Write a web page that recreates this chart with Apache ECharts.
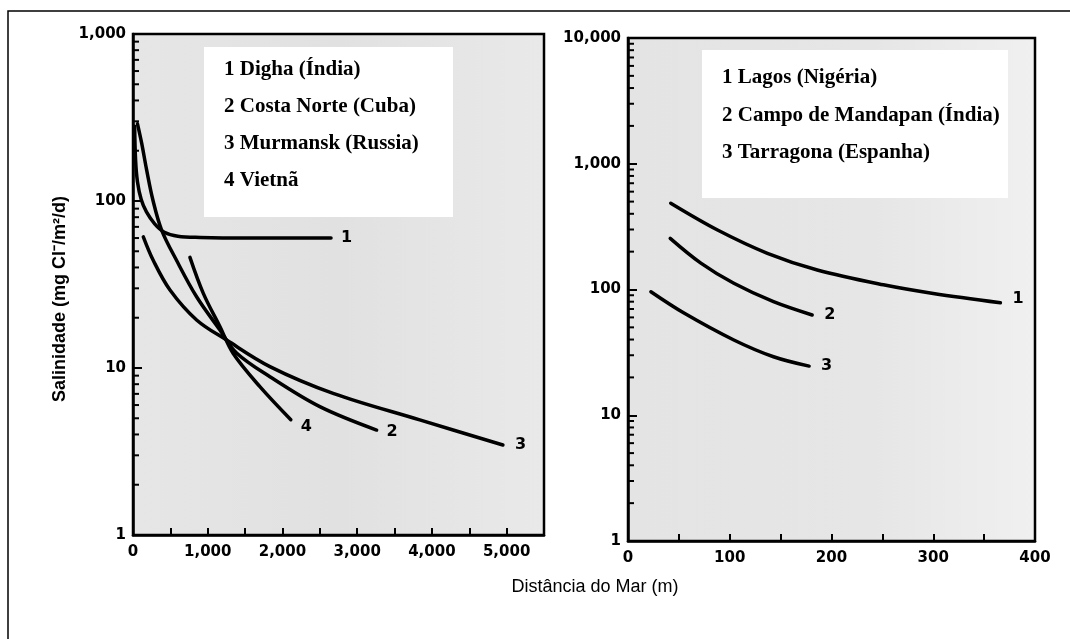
<!DOCTYPE html>
<html><head><meta charset="utf-8">
<script src="https://cdn.jsdelivr.net/npm/echarts@6/dist/echarts.min.js"></script>
<style>html,body{margin:0;padding:0;background:#fff}#c{width:1070px;height:639px}</style>
</head><body><div id="c"></div>
<script>
// ---------- Left panel data (distance m, salinity mg Cl-/m2/d) ----------
const leftLegend = ['1 Digha (Índia)', '2 Costa Norte (Cuba)', '3 Murmansk (Russia)', '4 Vietnã'];
const digha      = [[22,280],[35,175],[60,130],[110,102],[180,86],[290,73],[420,65],[600,61.5],[900,60.5],[1500,60],[2650,60]];
const costaNorte = [[60,290],[116,222],[183,153],[267,101],[383,67],[584,44],[851,26.7],[1163,16.9],[1386,12.3],[1832,8.87],[2500,5.87],[3260,4.25]];
const murmansk   = [[138,61],[272,44],[495,29.3],[851,19.4],[1253,14.7],[1832,10.2],[2678,7.05],[3837,4.89],[4950,3.46]];
const vietna     = [[762,46],[941,28],[1163,17.7],[1341,12.2],[1698,7.73],[2112,4.9]];
const leftCurveLabels = ['1','2','3','4'];

// ---------- Right panel data ----------
const rightLegend = ['1 Lagos (Nigéria)', '2 Campo de Mandapan (Índia)', '3 Tarragona (Espanha)'];
const lagos     = [[42,485],[88,297],[137,194],[186,143],[251,109],[300,93],[366,78.5]];
const mandapan  = [[41.5,255],[71.6,162],[104,112],[143,80],[181,62.7]];
const tarragona = [[22.5,96],[55,65],[104,39.7],[143,29.2],[178,24.6]];
const rightCurveLabels = ['1','2','3'];

// ---------- Axis decoration ----------
const minorTicksLeft  = [2,3,4,5,6,7,8,9,20,30,40,50,60,70,80,90,200,300,400,500,600,700,800,900];
const minorTicksRight = [2,3,4,5,6,7,8,9,20,30,40,50,60,70,80,90,200,300,400,500,600,700,800,900,2000,3000,4000,5000,6000,7000,8000,9000];
const yTitle = 'Salinidade (mg Cl\u207B/m\u00B2/d)';
const xTitle = 'Distância do Mar (m)';

function fmt(v){ return String(Math.round(v)).replace(/\B(?=(\d{3})+(?!\d))/g, ','); }

const tickFont = {color:'#000', fontFamily:'DejaVu Sans', fontWeight:'bold', fontSize:15};

function xAxisCfg(gi, max, interval, labelEvery){
  return {gridIndex:gi, type:'value', min:0, max:max, interval:interval,
    axisLine:{onZero:false, lineStyle:{color:'#000', width:2.5}},
    axisTick:{inside:true, length:7, lineStyle:{color:'#000', width:2}},
    axisLabel:Object.assign({margin:10, formatter:v => (v % labelEvery === 0 ? fmt(v) : '')}, tickFont),
    splitLine:{show:false}};
}
function yAxisCfg(gi, max){
  return {gridIndex:gi, type:'log', logBase:10, min:1, max:max,
    axisLine:{lineStyle:{color:'#000', width:2.5}},
    axisTick:{inside:true, length:9, lineStyle:{color:'#000', width:2}},
    axisLabel:Object.assign({margin:7, formatter:v => fmt(v)}, tickFont),
    splitLine:{show:false}, minorTick:{show:false}};
}
function curve(data, gi, lab, off){
  return {type:'line', xAxisIndex:gi, yAxisIndex:gi, data:data, showSymbol:false, symbol:'none',
    smooth:0.35, silent:true,
    lineStyle:{color:'#000', width:3.5, cap:'round', join:'round'},
    endLabel:{show:true, formatter:lab, distance:8, offset:off, color:'#000',
      fontFamily:'DejaVu Sans', fontWeight:'bold', fontSize:16}};
}
function minorSeries(vals, gi){
  return {type:'custom', xAxisIndex:gi, yAxisIndex:gi, silent:true, z:5,
    data:vals.map(v => [0, v]),
    renderItem:(params, api) => {
      const p = api.coord([api.value(0), api.value(1)]);
      return {type:'line', shape:{x1:p[0], y1:p[1], x2:p[0]+6, y2:p[1]}, style:{stroke:'#000', lineWidth:2}};
    }};
}

function legendGraphics(names, x0, y0, w, h, firstY, step){
  const g = [{type:'rect', z:100, shape:{x:x0, y:y0, width:w, height:h}, style:{fill:'#fff'}}];
  names.forEach((n, i) => g.push({type:'text', z:101, x:x0+20, y:firstY + i*step,
    style:{text:n, fill:'#000', font:'bold 21px "Liberation Serif"', verticalAlign:'middle'}}));
  return g;
}

const chart = echarts.init(document.getElementById('c'), null, {renderer:'canvas'});
chart.setOption({
  animation:false,
  backgroundColor:'#fff',
  grid:[
    {left:133, top:34, width:411, height:501, show:true, borderColor:'#000', borderWidth:2.5,
      backgroundColor:new echarts.graphic.LinearGradient(0,0,1,0,[{offset:0,color:'#e6e6e6'},{offset:0.5,color:'#e1e1e1'},{offset:1,color:'#e9e9e9'}])},
    {left:628, top:38, width:407, height:503, show:true, borderColor:'#000', borderWidth:2.5,
      backgroundColor:new echarts.graphic.LinearGradient(0,0,1,0,[{offset:0,color:'#e4e4e4'},{offset:0.6,color:'#e6e6e6'},{offset:1,color:'#f0f0f0'}])}
  ],
  xAxis:[ xAxisCfg(0, 5500, 500, 1000), xAxisCfg(1, 400, 50, 100) ],
  yAxis:[ yAxisCfg(0, 1000), yAxisCfg(1, 10000) ],
  series:[
    curve(digha, 0, leftCurveLabels[0], [2,0]),
    curve(costaNorte, 0, leftCurveLabels[1], [2,2]),
    curve(murmansk, 0, leftCurveLabels[2], [4,0]),
    curve(vietna, 0, leftCurveLabels[3], [2,7]),
    curve(lagos, 1, rightCurveLabels[0], [4,-4]),
    curve(mandapan, 1, rightCurveLabels[1], [4,0]),
    curve(tarragona, 1, rightCurveLabels[2], [4,0]),
    minorSeries(minorTicksLeft, 0),
    minorSeries(minorTicksRight, 1)
  ],
  graphic:[
    {type:'rect', z:0, shape:{x:8, y:11, width:1200, height:800}, style:{fill:'none', stroke:'#000', lineWidth:1.5}},
    ...legendGraphics(leftLegend, 204, 47, 249, 170, 70, 36.7),
    ...legendGraphics(rightLegend, 702, 50, 306, 148, 78, 37.5),
    {type:'text', z:101, x:60, y:299, rotation:Math.PI/2,
      style:{text:yTitle, fill:'#000', font:'bold 18px "Liberation Sans"', align:'center', verticalAlign:'middle'}},
    {type:'text', z:101, x:595, y:587,
      style:{text:xTitle, fill:'#000', font:'18px "Liberation Sans"', align:'center', verticalAlign:'middle'}}
  ]
});
</script></body></html>
